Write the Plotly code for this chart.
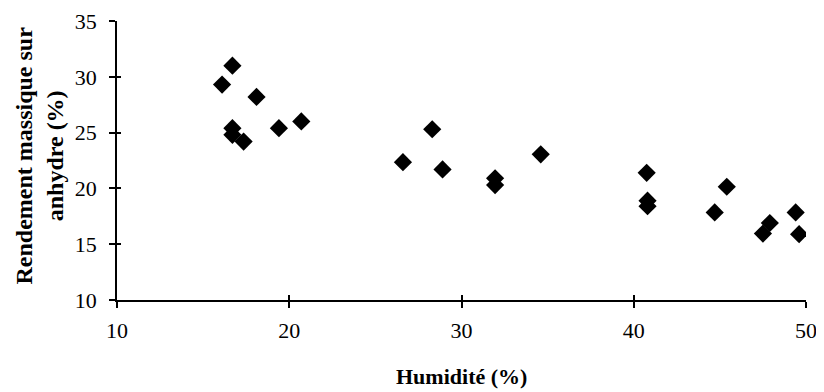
import plotly.graph_objects as go

humidite = [16.1, 16.7, 18.1, 16.7, 16.7, 17.35, 19.4, 20.7, 26.6, 28.3, 28.9,
            31.95, 31.95, 34.6, 40.75, 40.8, 40.8, 44.7, 45.4, 47.5, 47.9, 49.4, 49.6]
rendement = [29.3, 31.0, 28.2, 25.4, 24.8, 24.2, 25.4, 26.0, 22.35, 25.3, 21.7,
             20.9, 20.3, 23.05, 21.4, 18.9, 18.4, 17.85, 20.15, 15.95, 16.9, 17.85, 15.9]

x_ticks = [10, 20, 30, 40, 50]
y_ticks = [10, 15, 20, 25, 30, 35]

FONT = "Liberation Serif"

fig = go.Figure()
fig.add_trace(go.Scatter(
    x=humidite, y=rendement, mode="markers",
    marker=dict(symbol="diamond", size=14, color="black"),
    showlegend=False, hoverinfo="skip",
))
# empty trace to create an overlay subplot for inside tick marks
fig.add_trace(go.Scatter(x=[], y=[], xaxis="x2", yaxis="y2", showlegend=False))

axis_common = dict(showgrid=False, zeroline=False, showline=True, linecolor="black",
                   linewidth=1.5, ticks="outside", ticklen=6, tickwidth=1.5,
                   tickcolor="black", automargin=False,
                   tickfont=dict(family=FONT, size=22, color="black"))

# page body has an 8px default margin: margins below compensate for it
fig.update_layout(
    template="none",
    width=824, height=392,
    margin=dict(l=109, r=26, t=13, b=100, pad=0),
    paper_bgcolor="white", plot_bgcolor="white",
    xaxis=dict(range=[10, 50], tickvals=x_ticks, ticktext=[str(v) for v in x_ticks],
               ticklabelstandoff=4, **axis_common),
    yaxis=dict(range=[10, 35], tickvals=y_ticks, ticktext=[str(v) for v in y_ticks],
               ticklabelstandoff=8, **axis_common),
    xaxis2=dict(range=[10, 50], overlaying="x", tickvals=x_ticks, ticks="inside",
                ticklen=5, tickwidth=1.5, tickcolor="black", showticklabels=False,
                showgrid=False, zeroline=False, showline=False, side="bottom",
                automargin=False),
    yaxis2=dict(range=[10, 35], overlaying="y", tickvals=y_ticks, ticks="inside",
                ticklen=4, tickwidth=1.5, tickcolor="black", showticklabels=False,
                showgrid=False, zeroline=False, showline=False, side="left",
                automargin=False),
    annotations=[
        dict(text="<b>Humidité (%)</b>", xref="paper", yref="paper", x=0.5, y=0,
             xanchor="center", yanchor="middle", yshift=-76, showarrow=False,
             font=dict(family=FONT, size=22, color="black")),
        dict(text="<b>Rendement massique sur<br>anhydre (%)</b>", xref="paper", yref="paper",
             x=0, y=0.5, xanchor="center", yanchor="middle", xshift=-78, yshift=5,
             textangle=-90, showarrow=False,
             font=dict(family=FONT, size=24, color="black")),
    ],
)

fig.write_html("out.html")
